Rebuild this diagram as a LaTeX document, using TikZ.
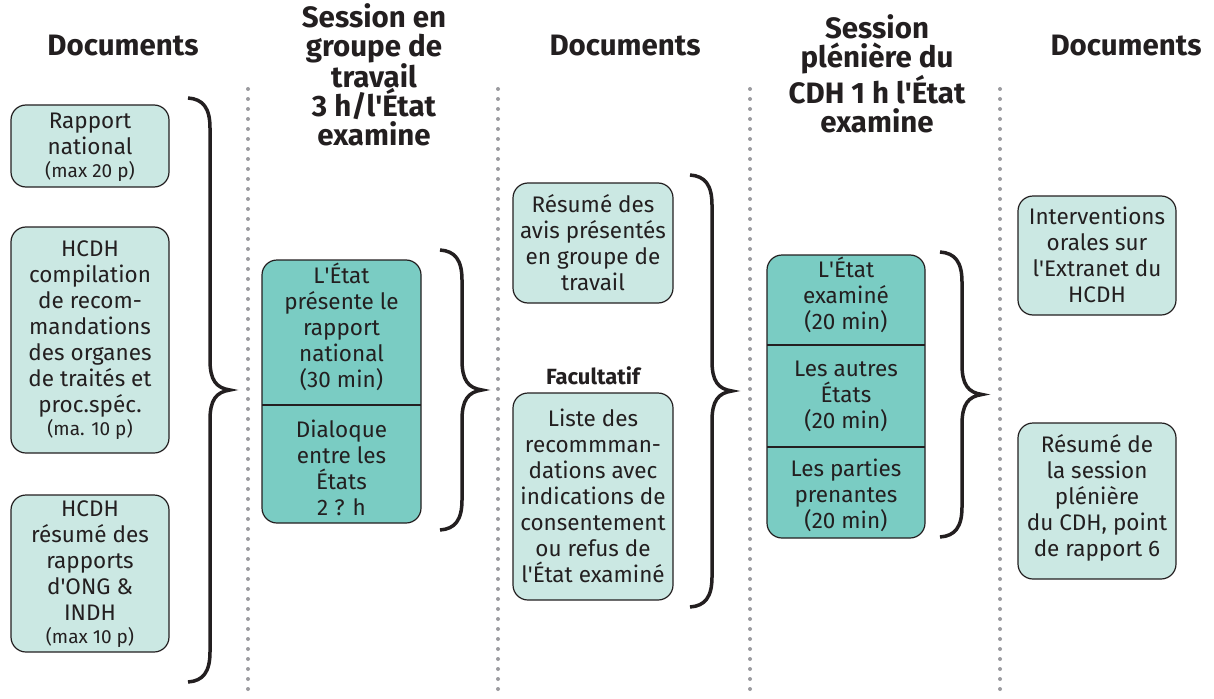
\documentclass[tikz,border=0pt]{standalone}
\usepackage{fontspec}
\setmainfont{Fira Sans}
\definecolor{lightteal}{HTML}{CBE8E3}
\definecolor{midteal}{HTML}{7ACCC3}
\definecolor{ink}{HTML}{231F20}
\definecolor{dotgray}{HTML}{9B9B9F}
\newcommand{\pnote}[1]{{\fontsize{19}{22}\selectfont #1}}
\newcommand{\apos}{\XeTeXglyph\XeTeXglyphindex"quotesingle"\relax}

\begin{document}
\begin{tikzpicture}[x=1pt,y=-1pt,
    head/.style={font=\fontsize{29.5}{29}\selectfont\bfseries,align=center,text=ink,inner sep=0pt},
    txt/.style={font=\fontsize{22.5}{26}\selectfont,align=center,text=ink,inner sep=0pt},
    docbox/.style={draw=ink,line width=1.2pt,fill=lightteal,rounded corners=15pt},
    sessbox/.style={draw=ink,line width=1.2pt,fill=midteal,rounded corners=15pt},
    sep/.style={dotgray,line width=4pt,line cap=round,dash pattern=on 0pt off 10pt},
    curly/.style={ink,line width=3.5pt}
]
            \useasboundingbox (0,0) rectangle (1214,698);

            \node[head] (h1) at (123,46) {Documents};
            \node[head] (h2) at (374,75) {Session en\\groupe de\\travail\\3 h/l\apos État\\examine};
            \node[head] (h3) at (625,46) {Documents};
            \node[head] (h4) at (877,74) {Session\\plénière du\\CDH 1 h l\apos État\\examine};
            \node[head] (h5) at (1126,46) {Documents};

            \foreach \sx in {248,498,750,1000}
                \draw[sep] (\sx,89) -- (\sx,698);

            \draw[docbox] (11,105) rectangle (169,187);
            \draw[docbox] (11,227) rectangle (169,453);
            \draw[docbox] (11,495) rectangle (169,652);
            \node[txt] (d1) at (90,147) {Rapport\\national\\[-3pt]\pnote{(max 20 p)}};
            \node[txt] (d2) at (90,340) {HCDH\\compilation\\de recom-\\mandations\\des organes\\de traités et\\proc.spéc.\\[-3pt]\pnote{(ma. 10 p)}};
            \node[txt] (d3) at (90,574) {HCDH\\résumé des\\rapports\\d\apos ONG \&\\INDH\\[-3pt]\pnote{(max 10 p)}};

            \draw[sessbox] (262,260) rectangle (421,523);
            \draw[ink,line width=1.2pt] (262,405) -- (421,405);
            \node[txt] (g1) at (341.5,327) {L\apos État\\présente le\\rapport\\national\\(30 min)};
            \node[txt] (g2) at (341.5,468) {Dialoque\\entre les\\États\\2 ? h};

            \draw[docbox] (513,183) rectangle (673,303);
            \draw[docbox] (513,393) rectangle (673,600);
            \node[txt] (r1) at (593,243) {Résumé des\\avis présentés\\en groupe de\\travail};
            \node[txt,font=\fontsize{22}{24}\selectfont\bfseries] (fac) at (593,376) {Facultatif};
            \node[txt] (r2) at (593,496) {Liste des\\recommman-\\dations avec\\indications de\\consentement\\ou refus de\\l\apos État examiné};

            \draw[sessbox] (767,255) rectangle (925,538);
            \draw[ink,line width=1.2pt] (767,345) -- (925,345);
            \draw[ink,line width=1.2pt] (767,447) -- (925,447);
            \node[txt] (p1) at (846,295) {L\apos État\\examiné\\(20 min)};
            \node[txt] (p2) at (846,396) {Les autres\\États\\(20 min)};
            \node[txt] (p3) at (846,495) {Les parties\\prenantes\\(20 min)};

            \draw[docbox] (1018,196) rectangle (1176,315);
            \draw[docbox] (1018,423) rectangle (1176,579);
            \node[txt] (e1) at (1097,255) {Interventions\\orales sur\\l\apos Extranet du\\HCDH};
            \node[txt] (e2) at (1097,498) {Résumé de\\la session\\plénière\\du CDH, point\\de rapport 6};

            \foreach \bx/\ya/\yb [evaluate=\ya as \ym using (\ya+\yb)/2] in {188/98/682,440/250/530,690/175/607,940/252/537}
                \draw[curly] (\bx,\ya) .. controls (\bx+15,\ya+1) and (\bx+22,\ya+10) .. (\bx+22,\ya+30)
                    -- (\bx+22,\ym-30) .. controls (\bx+22,\ym-10) and (\bx+28,\ym-2) .. (\bx+42,\ym)
                    .. controls (\bx+28,\ym+2) and (\bx+22,\ym+10) .. (\bx+22,\ym+30)
                    -- (\bx+22,\yb-30) .. controls (\bx+22,\yb-10) and (\bx+15,\yb-1) .. (\bx,\yb);
        \end{tikzpicture}
\end{document}
